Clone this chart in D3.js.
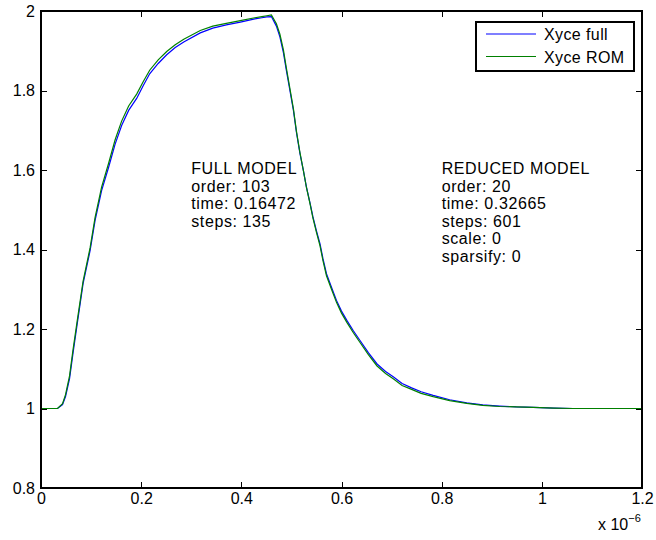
<!DOCTYPE html>
<html>
<head>
<meta charset="utf-8">
<script src="https://cdn.jsdelivr.net/npm/d3@7"></script>
<style>
  body { margin: 0; background: #fff; }
  text { font-family: "Liberation Sans", Arial, sans-serif; }
</style>
</head>
<body>
<svg id="chart" width="656" height="540"></svg>
<script>
// time in units of 1e-6 s
const timeUs = [0, 0.033, 0.043, 0.049, 0.057, 0.064, 0.072, 0.084, 0.098, 0.108, 0.121, 0.135, 0.148, 0.161, 0.175,
  0.191, 0.204, 0.217, 0.234, 0.251, 0.268, 0.285, 0.318, 0.343, 0.370, 0.398, 0.427, 0.441, 0.451, 0.460, 0.470,
  0.477, 0.484, 0.490, 0.497, 0.504, 0.510, 0.517, 0.524, 0.530, 0.537, 0.543, 0.550, 0.557, 0.563, 0.570, 0.580,
  0.590, 0.600, 0.611, 0.624, 0.637, 0.654, 0.671, 0.688, 0.704, 0.721, 0.740, 0.759, 0.783, 0.816, 0.850, 0.882,
  0.916, 0.949, 0.983, 1.024, 1.062, 1.200];

const fullValues = [1.000, 1.000, 1.010, 1.030, 1.075, 1.140, 1.210, 1.314, 1.397, 1.473, 1.548, 1.607, 1.665, 1.712, 1.750,
  1.780, 1.812, 1.842, 1.868, 1.890, 1.908, 1.922, 1.945, 1.957, 1.965, 1.972, 1.980, 1.983, 1.985, 1.986, 1.962,
  1.935, 1.895, 1.850, 1.800, 1.750, 1.695, 1.642, 1.598, 1.557, 1.518, 1.482, 1.447, 1.415, 1.377, 1.339, 1.305,
  1.272, 1.245, 1.221, 1.195, 1.171, 1.140, 1.112, 1.093, 1.079, 1.063, 1.052, 1.042, 1.033, 1.022, 1.014, 1.009,
  1.006, 1.004, 1.003, 1.001, 1.000, 1.000];

const romValues = [1.000, 1.000, 1.012, 1.035, 1.082, 1.148, 1.218, 1.320, 1.404, 1.481, 1.557, 1.617, 1.676, 1.723, 1.761,
  1.791, 1.822, 1.851, 1.877, 1.898, 1.915, 1.929, 1.951, 1.962, 1.969, 1.976, 1.983, 1.986, 1.988, 1.990, 1.968,
  1.942, 1.902, 1.856, 1.805, 1.754, 1.698, 1.644, 1.598, 1.556, 1.516, 1.479, 1.443, 1.410, 1.372, 1.334, 1.300,
  1.267, 1.240, 1.216, 1.190, 1.166, 1.135, 1.107, 1.088, 1.074, 1.058, 1.048, 1.038, 1.030, 1.020, 1.013, 1.008,
  1.005, 1.004, 1.003, 1.001, 1.000, 1.000];

const seriesNames = ["Xyce full", "Xyce ROM"];
const seriesColors = ["#0000ff", "#008000"];

const xTicks = [0, 0.2, 0.4, 0.6, 0.8, 1, 1.2];
const yTicks = [0.8, 1, 1.2, 1.4, 1.6, 1.8, 2];

const fullText = ["FULL MODEL", "order: 103", "time: 0.16472", "steps: 135"];
const reducedText = ["REDUCED MODEL", "order: 20", "time: 0.32665", "steps: 601", "scale: 0", "sparsify: 0"];

const svg = d3.select("#chart");
const margin = { top: 11, right: 14, bottom: 52, left: 41 };
const width = +svg.attr("width") - margin.left - margin.right;
const height = +svg.attr("height") - margin.top - margin.bottom;

const g = svg.append("g").attr("transform", `translate(${margin.left},${margin.top})`);

const x = d3.scaleLinear().domain([0, 1.2]).range([0, width]);
const y = d3.scaleLinear().domain([0.8, 2]).range([height, 0]);

const fmt = d => String(+d.toFixed(1));

function styleAxis(sel) {
  sel.select(".domain").remove();
  sel.selectAll("line").attr("stroke", "#000").attr("shape-rendering", "crispEdges");
  sel.selectAll("text").attr("font-size", 16).attr("fill", "#000")
    .style("font-family", '"Liberation Sans", Arial, sans-serif');
}

g.append("g").attr("transform", `translate(0,${height})`)
  .call(d3.axisBottom(x).tickValues(xTicks).tickFormat(fmt).tickSize(-6).tickPadding(5))
  .call(styleAxis);
g.append("g")
  .call(d3.axisTop(x).tickValues(xTicks).tickFormat("").tickSize(-6))
  .call(styleAxis);
g.append("g")
  .call(d3.axisLeft(y).tickValues(yTicks).tickFormat(fmt).tickSize(-6).tickPadding(6))
  .call(styleAxis);
g.append("g").attr("transform", `translate(${width},0)`)
  .call(d3.axisRight(y).tickValues(yTicks).tickFormat("").tickSize(-6))
  .call(styleAxis);

const line = d3.line().x(d => x(d[0])).y(d => y(d[1]));

[fullValues, romValues].forEach((vals, i) => {
  g.append("path")
    .datum(timeUs.map((t, j) => [t, vals[j]]))
    .attr("fill", "none")
    .attr("stroke", seriesColors[i])
    .attr("stroke-width", 1.2)
    .attr("d", line);
});

g.append("rect")
  .attr("width", width).attr("height", height)
  .attr("fill", "none").attr("stroke", "#000").attr("stroke-width", 2)
  .attr("shape-rendering", "crispEdges");

// annotations
function block(lines, tx) {
  const t = g.append("text").attr("font-size", 16).attr("fill", "#000")
    .style("letter-spacing", "0.6px");
  lines.forEach((s, i) => {
    t.append("tspan").attr("x", x(tx)).attr("y", y(1.6) + 4 + i * 17.5).text(s);
  });
}
block(fullText, 0.3);
block(reducedText, 0.8);

// legend
const legend = g.append("g").attr("transform", `translate(${width - 166},11)`);
legend.append("rect").attr("width", 158).attr("height", 49)
  .attr("fill", "#fff").attr("stroke", "#000").attr("stroke-width", 1.3)
  .attr("shape-rendering", "crispEdges");
seriesNames.forEach((name, i) => {
  const ly = 12 + i * 22.5;
  legend.append("line").attr("x1", 10).attr("x2", 60).attr("y1", ly).attr("y2", ly)
    .attr("stroke", seriesColors[i]).attr("stroke-width", 1.2);
  legend.append("text").attr("x", 68).attr("y", ly + 6).attr("font-size", 16)
    .style("letter-spacing", "0.4px").text(name);
});

// exponent label
const ex = svg.append("text").attr("x", 598).attr("y", 530).attr("font-size", 16);
ex.append("tspan").text("x 10");
ex.append("tspan").attr("dy", -8).attr("font-size", 11).text("\u22126");
</script>
</body>
</html>
